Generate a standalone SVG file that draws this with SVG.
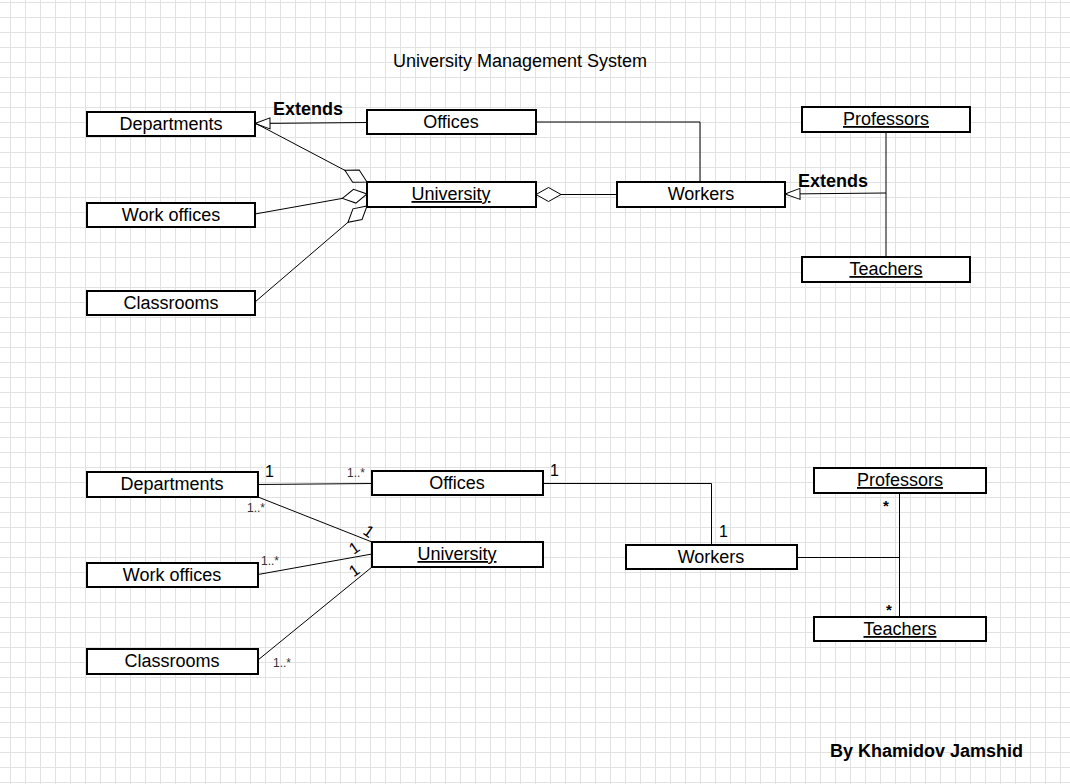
<svg xmlns="http://www.w3.org/2000/svg" width="1070" height="784" viewBox="0 0 1070 784">
<style>
text{font-family:"Liberation Sans",Arial,sans-serif;fill:#000}
.lbl{font-size:18px;text-anchor:middle}
.u{text-decoration:underline}
.box{fill:#fff;stroke:#000;stroke-width:2}
.ln{fill:none;stroke:#000;stroke-width:1}
.ext{font-size:18px;font-weight:bold}
.one{font-size:16px}
.many{font-size:12px;fill:#333}
.star{font-size:15px;font-weight:bold}
</style>
<defs>
<pattern id="grid" patternUnits="userSpaceOnUse" x="10" y="2" width="15" height="15">
<rect x="0" y="0" width="1" height="15" fill="#e2e2e2"/>
<rect x="0" y="0" width="15" height="1" fill="#e2e2e2"/>
</pattern>
<marker id="diamond" markerUnits="userSpaceOnUse" markerWidth="28" markerHeight="16" refX="26" refY="8" orient="auto">
<path d="M1,8 L13.5,1 L26,8 L13.5,15 Z" fill="#fff" stroke="#000" stroke-width="1"/>
</marker>
<marker id="tri" markerUnits="userSpaceOnUse" markerWidth="18" markerHeight="13" refX="16" refY="6.5" orient="auto">
<path d="M1,1 L16,6.5 L1,12 Z" fill="#fff" stroke="#000" stroke-width="1"/>
</marker>
</defs>
<rect width="1070" height="784" fill="#fff"/>
<rect width="1070" height="784" fill="url(#grid)"/>

<text x="520" y="67" class="lbl">University Management System</text>

<g id="connectors-top">
<path class="ln" d="M367,122.5 L255,123.5" marker-end="url(#tri)"/>
<path class="ln" d="M255,123 L367,182" marker-end="url(#diamond)"/>
<path class="ln" d="M255,214 L367,194" marker-end="url(#diamond)"/>
<path class="ln" d="M255,302 L367,206" marker-end="url(#diamond)"/>
<path class="ln" d="M617,194.5 L536,194.5" marker-end="url(#diamond)"/>
<path class="ln" d="M536,122 L700,122 L700,182"/>
<path class="ln" d="M886,132 L886,257" stroke="#333"/>
<path class="ln" d="M886,193 L785,194" stroke="#333" marker-end="url(#tri)"/>
<text x="273" y="115" class="ext">Extends</text>
<text x="798" y="187" class="ext">Extends</text>
</g>

<g id="t-departments"><rect class="box" x="87" y="112" width="168" height="24"/><text class="lbl" x="171" y="130">Departments</text></g>
<g id="t-workoffices"><rect class="box" x="87" y="203" width="168" height="24"/><text class="lbl" x="171" y="221">Work offices</text></g>
<g id="t-classrooms"><rect class="box" x="87" y="291" width="168" height="24"/><text class="lbl" x="171" y="309">Classrooms</text></g>
<g id="t-offices"><rect class="box" x="367" y="110" width="169" height="24"/><text class="lbl" x="451" y="128">Offices</text></g>
<g id="t-university"><rect class="box" x="367" y="182" width="169" height="25"/><text class="lbl u" x="451" y="200">University</text></g>
<g id="t-workers"><rect class="box" x="617" y="182" width="168" height="25"/><text class="lbl" x="701" y="200">Workers</text></g>
<g id="t-professors"><rect class="box" x="802" y="107" width="168" height="25"/><text class="lbl u" x="886" y="125">Professors</text></g>
<g id="t-teachers"><rect class="box" x="802" y="257" width="168" height="25"/><text class="lbl u" x="886" y="275">Teachers</text></g>

<g id="connectors-bottom">
<path class="ln" d="M258,484.5 L372,483.5"/>
<path class="ln" d="M258,497 L372,542"/>
<path class="ln" d="M258,574.5 L372,554"/>
<path class="ln" d="M258,660 L372,567"/>
<path class="ln" d="M543,483.5 L711.5,483.5 L711.5,545"/>
<path class="ln" d="M797,557.5 L899.5,557.5"/>
<path class="ln" d="M899.5,493 L899.5,617"/>
<text x="265" y="477" class="one">1</text>
<text x="347" y="477" class="many">1..*</text>
<text x="247" y="512" class="many">1..*</text>
<text x="261" y="565" class="many">1..*</text>
<text x="273" y="667" class="many">1..*</text>
<text x="550" y="476" class="one">1</text>
<text x="719" y="537" class="one">1</text>
<text class="one" text-anchor="middle" transform="translate(369,531) rotate(35)" y="6">1</text>
<text class="one" text-anchor="middle" transform="translate(354,547.5) rotate(-35)" y="6">1</text>
<text class="one" text-anchor="middle" transform="translate(354,570) rotate(-35)" y="6">1</text>
<text x="883" y="511" class="star">*</text>
<text x="886" y="615" class="star">*</text>
</g>

<g id="b-departments"><rect class="box" x="87" y="472" width="171" height="25"/><text class="lbl" x="172" y="490">Departments</text></g>
<g id="b-workoffices"><rect class="box" x="87" y="563" width="171" height="24"/><text class="lbl" x="172" y="581">Work offices</text></g>
<g id="b-classrooms"><rect class="box" x="87" y="649" width="171" height="25"/><text class="lbl" x="172" y="667">Classrooms</text></g>
<g id="b-offices"><rect class="box" x="372" y="471" width="171" height="24"/><text class="lbl" x="457" y="489">Offices</text></g>
<g id="b-university"><rect class="box" x="372" y="542" width="171" height="25"/><text class="lbl u" x="457" y="560">University</text></g>
<g id="b-workers"><rect class="box" x="626" y="545" width="171" height="24"/><text class="lbl" x="711" y="563">Workers</text></g>
<g id="b-professors"><rect class="box" x="814" y="468" width="172" height="25"/><text class="lbl u" x="900" y="486">Professors</text></g>
<g id="b-teachers"><rect class="box" x="814" y="617" width="172" height="24"/><text class="lbl u" x="900" y="635">Teachers</text></g>

<text x="830" y="757" class="ext">By Khamidov Jamshid</text>
</svg>
